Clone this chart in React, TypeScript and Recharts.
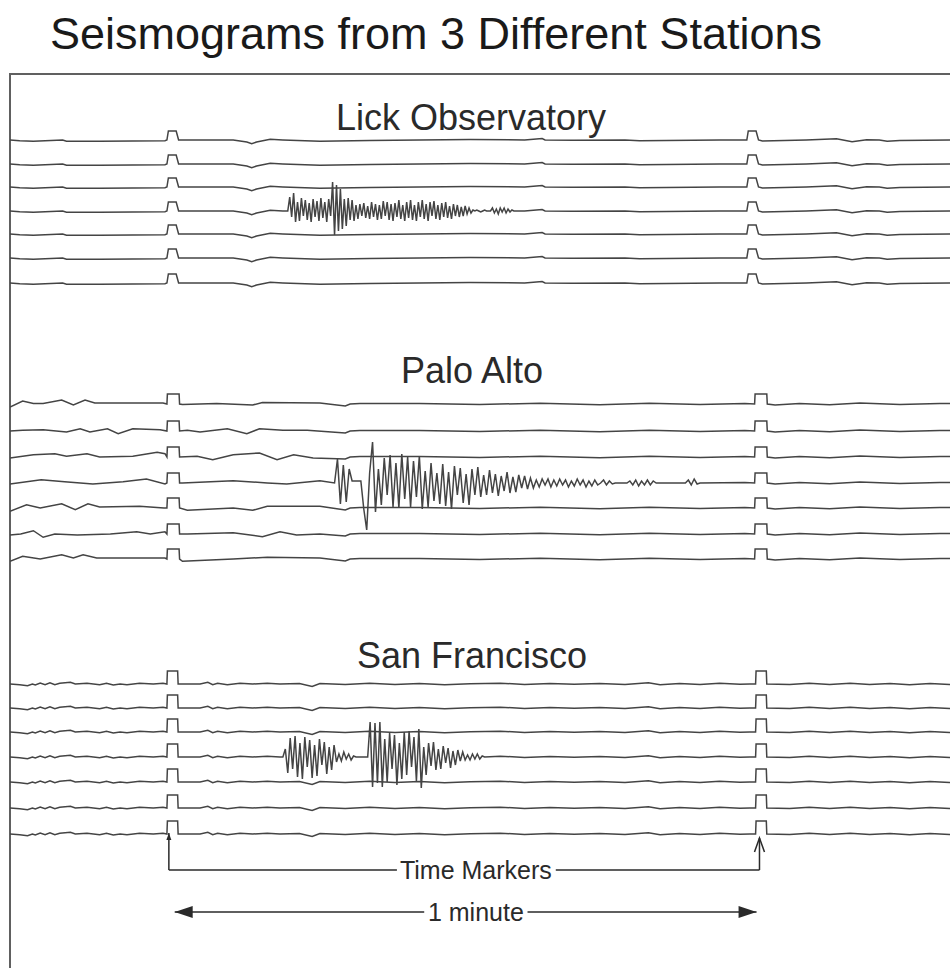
import React from 'react';
import { ComposedChart, XAxis, YAxis, Line, ReferenceLine, ReferenceDot } from 'recharts';

// x: seconds after the first time marker, y: trace level (1 unit ~ 1 px of drum paper)
const stationNames = ['Lick Observatory', 'Palo Alto', 'San Francisco'];
const stationLabelTimes = [31.2, 31.3, 31.3];
const stationLabelLevels = [873, 620, 335];

const lickLevels = [850, 826, 803, 779, 756, 732, 707];
const paloAltoLevels = [586, 559, 533, 507, 482, 456, 431];
const sanFranciscoLevels = [306, 282, 258, 233, 208, 182, 156];

const lickMarkers = [0, 59.5];
const paloAltoMarkers = [0, 60.3];
const sanFranciscoMarkers = [0, 60.4];

// time marker pulse [dt, amplitude]
const lickPulse = [[0, 0], [0.15, 9], [0.95, 9], [1.2, 0]];
const paloAltoPulse = [[0, 0], [0.05, 10], [1.25, 10], [1.3, 0]];
const sanFranciscoPulse = [[0, 0], [0.05, 13], [1.1, 13], [1.15, 0]];

// background wiggle [t, amplitude]
const lickWiggle = [
  [-16.1, 0], [-15.1, -0.7], [-13.7, -1.3], [-10.7, 0], [-10.3, -1.3], [-6.9, -1.3], [-3.5, -1], [-0.2, -0.7],
  [1.3, -1.3], [3.4, 0], [6.8, 0], [8.2, -2], [8.7, -3.7], [9.2, -2], [10.6, 0.7], [11.9, 0], [15.7, -1.3],
  [20.8, -0.5], [25.9, 0], [31.1, 0.5], [36.7, 0], [38.5, 1.5], [38.8, 0], [41.8, -0.3], [47.0, 0], [48.5, -0.7], [56.7, 0], [58.8, 0],
  [61.1, -1], [65.6, 0], [68.7, 1.3], [70.3, -1.7], [71.8, 0.3], [73.1, 0], [73.9, -1.3], [75.2, -0.5], [80.3, 0], [82.4, 0],
];

const paloAltoLeft = [
  [[-16.1, -3], [-14.8, 3], [-13.7, 0.5], [-12.7, 0.5], [-10.8, 4], [-9.6, -1], [-8.4, 4], [-7.4, 1], [-3.5, 1], [-0.4, 1], [1.6, -0.5], [5.1, 0.5], [8.8, -1], [9.8, 1.5], [15.7, 1]],
  [[-16.1, 0], [-14.8, 0.7], [-12.7, 1.3], [-10.3, -1], [-8.9, 2.3], [-7.9, -1], [-6.1, 2.3], [-5.0, -2.7], [-3.5, 2.3], [-0.7, 1.3], [2.1, 0.7], [3.4, -1], [6.2, 2.3], [8.2, -2.7], [9.5, 2.3], [11.9, 0.7], [14.4, 0.7]],
  [[-16.1, -1], [-13.7, 2.3], [-11.5, 3.3], [-10.3, 0.7], [-8.2, 3.3], [-6.9, 0], [-3.5, 0.7], [-1.0, 4.7], [-0.2, 3.3], [1.3, 2.3], [3.1, 0.7], [4.7, -2.7], [6.8, 2.3], [9.5, 4], [11.3, -2.7], [13.0, 2.3], [15.0, -1]],
  [[-16.1, -1], [-12.9, 3.3], [-10.5, 1.3], [-7.6, -1], [-4.5, 1.3], [-2.1, 4], [-0.2, -1], [1.6, 0], [6.8, 2.3], [10.3, 0], [12.3, -1], [15.7, 2.3]],
  [[-16.1, -3.3], [-14.4, 3.3], [-13.0, 0], [-10.8, 4.3], [-9.4, -1.7], [-8.1, 4.3], [-6.9, 1], [-2.8, 1.7], [-0.3, 0], [2.1, -2.3], [6.8, 0], [8.8, -2.3], [10.3, 1.7], [15.7, 1.7]],
  [[-16.1, -1], [-15.0, 0], [-13.7, 3.3], [-12.7, -3.3], [-11.5, 0], [-9.2, -1], [-5.8, 0], [-3.1, 2.3], [-1.7, 0], [-0.2, 2.3], [2.1, 0], [6.8, 1.3], [9.8, -2.7], [11.6, 2.3], [13.3, -1], [15.7, 0]],
  [[-16.1, -2.3], [-14.8, 2.7], [-13.0, 0], [-10.8, 4.3], [-9.6, 1], [-8.6, 4.3], [-7.2, 1], [-3.5, 1], [-0.2, 1], [1.6, -2.3], [6.8, 0], [10.3, 1.7], [15.7, 1]],
];
const paloAltoRight = [
  [18.3, -2], [18.8, 0], [19.8, 0.5], [25.9, 0.5], [32.1, -0.5], [38.3, 0.8], [44.4, -0.7], [49.5, 0.8], [54.7, -0.5], [59.3, 0.5],
  [62.4, -1], [64.9, 0.5], [68.0, -0.8], [71.1, 1], [75.2, -0.5], [79.3, 0.6], [82.4, 0],
];

const sanFranciscoWiggle = [
  [-16.1, 0], [-15.1, -0.7], [-14.3, -1.7], [-13.8, 0], [-13.5, -1], [-13.0, 1], [-12.5, -0.7], [-12.0, 1.3], [-11.5, -0.7], [-11.0, 0.7],
  [-9.9, 1.7], [-9.4, 0], [-8.2, 0.7], [-6.9, -0.7], [-6.2, 0.7], [-5.5, -1], [-4.8, 0], [-4.1, -0.7], [-2.8, 0.7], [-1.4, 0], [-0.4, 0.7],
  [1.5, 0], [3.4, 0], [4.2, 1.7], [4.7, -0.7], [5.2, 0.7], [6.2, -0.7], [7.5, 0.7], [8.8, 0], [10.3, 0.7], [11.6, 0],
  [13.6, 0.5], [14.9, -2.5], [15.7, 0.5], [18.3, -0.5], [20.8, 0.8], [23.4, -0.5], [25.9, 0.5], [28.5, -0.7], [31.1, 0.3], [34.2, 0.8],
  [36.7, -0.5], [39.3, 0.5], [41.8, -0.3], [44.4, 0.6], [47.0, -0.5], [49.4, 1.2], [50.6, -0.8], [52.6, 0.5], [54.7, -0.5], [56.7, 0.7],
  [58.8, -0.3], [59.8, 0], [61.6, 0.5], [63.9, -0.5], [65.9, 0.8], [68.0, -0.5], [70.1, 0.7], [72.1, -0.6], [74.2, 0.5], [76.2, -0.8],
  [78.3, 0.5], [80.3, -0.5], [82.4, 0],
];

// quake bursts on the 4th trace of each station: amplitudes sampled every `step` seconds from `start`
const lickBurst = {
  start: 12.4, step: 0.2,
  amps: [
    0, 14, -6, 18, -11, 9, -10, 13, -5, 11, -9, 8, -11, 12, -6, 10, -10, 13, -7, 9, -11, 12, -5,
    29, -24, 26, -20, 22, -18, 12, -15, 13, -9, 11, -10,
    6, -8, 7, -5, 8, -7, 5, -8, 9, -6, 7, -9, 6, -8, 10, -5, 9, -9, 7, -10, 8, -6, 11, -8, 6, -10,
    9, -7, 11, -9, 6, -10, 9, -6, 11, -8, 7, -10, 9, -5, 10, -8, 6, -9, 8, -6, 9, -7, 5, -8, 7,
    -5, 6, -6, 4, -5, 5, -3, 3, -2, 1,
    0, 1, 0, -1, 0, 1, 0, 0, 0,
    3, -2, 2, -3, 3, -1, 3, -2, 2, -1, 1, 0, 0, 0,
  ],
};
const paloAltoBurst = {
  start: 17.2, step: 0.3,
  amps: [
    0, 24, -21, 18, -19, 14, 2, 2, 2, 2, -26, -47, 10, 41, -29, 14, -22, 25, -12, 28, -24, 20, -25, 29, -16, 26,
    -24, 22, -14, 27, -26, 12, -24, 20, -18, 10, -21, 19, -23, 11, -26, 17, -12, 15, -20, 9, -22, 14, -12, 16,
    -14, 8, -12, 13, -10, 9, -13, 7, -8, 11, -10, 6, -9, 8, -5, 7, -6, 5, -5, 3, -4, 4, -2, 4, -4, 3, -3, 4,
    -2, 3, -4, 2, -3, 4, -2, 3, -4, 2, -3, 3, -2, 0, 3, -2, 2, -1, 0, 0, 0, 0, 0, 2, -2, 3, -3, 2, -2, 3, -2, 2,
    0, 0, 0, 0, 0, 0, 0, 0, 0, 0, 0, 3, -2, 4, -1, 0,
  ],
};
const sanFranciscoBursts = [
  {
    start: 11.9, step: 0.25,
    amps: [0, 8, -16, 19, -12, 21, -20, 14, -22, 20, -10, 17, -21, 12, -19, 18, -8, 15, -17, 10, -13, 12, -5, 3, -4, 5, -2, 3, -3, 1, 0],
  },
  {
    start: 20.6, step: 0.25,
    amps: [
      0, 35, -30, 34, -26, 35, -30, 18, -25, 24, -12, 22, -28, 14, -22, 25, -18, 26, -10, 20, -24, 28, -31, 10,
      -18, 14, -9, 15, -13, 8, -12, 11, -6, 9, -11, 6, -8, 7, -4, 5, -3, 2, -3, 3, -2, 3, -2, 1, 0,
    ],
  },
];

// annotation under the last trace
const bracketTimes = [0.2, 60.8];
const bracketTops = [157, 152];
const bracketLevel = 120;
const bracketTextGap = [23.6, 39.9];
const minuteTimes = [0.8, 60.5];
const minuteLevel = 78;
const minuteTextGap = [26.4, 37.0];
const noteTime = 31.7;

type Burst = { start: number; step: number; amps: number[] };

function buildTrace(level: number, wiggle: number[][], markers: number[], pulse: number[][], bursts: Burst[]) {
  const pulseEnd = pulse[pulse.length - 1][0];
  const blocked = markers.map((m) => [m - 0.1, m + pulseEnd + 0.1]);
  bursts.forEach((b) => blocked.push([b.start - 0.05, b.start + b.step * (b.amps.length - 1) + 0.05]));
  const pts: { t: number; v: number }[] = [];
  wiggle.forEach(([t, a]) => {
    if (!blocked.some(([lo, hi]) => t >= lo && t <= hi)) pts.push({ t, v: level + a });
  });
  markers.forEach((m) => pulse.forEach(([dt, a]) => pts.push({ t: m + dt, v: level + a })));
  bursts.forEach((b) => b.amps.forEach((a, i) => pts.push({ t: b.start + i * b.step, v: level + a })));
  pts.sort((p, q) => p.t - q.t);
  return pts;
}

const traces = [
  ...lickLevels.map((lv, i) => buildTrace(lv, lickWiggle, lickMarkers, lickPulse, i === 3 ? [lickBurst] : [])),
  ...paloAltoLevels.map((lv, i) =>
    buildTrace(lv, [...paloAltoLeft[i], ...paloAltoRight], paloAltoMarkers, paloAltoPulse, i === 3 ? [paloAltoBurst] : [])
  ),
  ...sanFranciscoLevels.map((lv, i) =>
    buildTrace(lv, sanFranciscoWiggle, sanFranciscoMarkers, sanFranciscoPulse, i === 3 ? sanFranciscoBursts : [])
  ),
];

const FONT = '"Liberation Sans", Arial, Helvetica, sans-serif';
const INK = '#2a2a2a';

const textShape = (label: string, size: number) => (p: any) => (
  <text x={p.cx} y={p.cy} textAnchor="middle" dominantBaseline="central" fontFamily={FONT} fontSize={size} fill={INK}>
    {label}
  </text>
);
const leftHead = (p: any) => (
  <polygon points={`${p.cx},${p.cy} ${p.cx + 18},${p.cy - 6} ${p.cx + 18},${p.cy + 6}`} fill={INK} />
);
const rightHead = (p: any) => (
  <polygon points={`${p.cx},${p.cy} ${p.cx - 18},${p.cy - 6} ${p.cx - 18},${p.cy + 6}`} fill={INK} />
);
const smallUpHead = (p: any) => (
  <polygon points={`${p.cx},${p.cy} ${p.cx - 2.5},${p.cy + 7} ${p.cx + 2.5},${p.cy + 7}`} fill={INK} />
);
const openUpHead = (p: any) => (
  <polyline points={`${p.cx - 5},${p.cy + 14} ${p.cx},${p.cy} ${p.cx + 5},${p.cy + 14}`} fill="none" stroke={INK} strokeWidth={1.5} />
);

export default function App() {
  return (
    <div style={{ position: 'absolute', left: 0, top: 0, width: 950, height: 968, overflow: 'hidden', background: '#fff' }}>
      <div
        style={{
          position: 'absolute', left: 50, top: 11, fontFamily: FONT, fontSize: 45, lineHeight: '45px',
          color: '#1a1a1a', whiteSpace: 'nowrap',
        }}
      >
        Seismograms from 3 Different Stations
      </div>
      <div
        style={{
          position: 'absolute', left: 9, top: 73, width: 1000, height: 1000,
          borderLeft: '2px solid #606060', borderTop: '2px solid #606060',
        }}
      />
      <div style={{ position: 'absolute', left: 0, top: 0 }}>
        <ComposedChart width={970} height={990} margin={{ top: 74, right: 0, bottom: 0, left: 10 }}>
          <XAxis type="number" dataKey="t" domain={[-16.1, 82.4]} allowDataOverflow hide />
          <YAxis type="number" dataKey="v" domain={[0, 916]} allowDataOverflow hide />
          {traces.map((d, i) => (
            <Line
              key={`trace-${i}`}
              data={d}
              dataKey="v"
              type="linear"
              stroke="#444"
              strokeWidth={1.5}
              dot={false}
              activeDot={false}
              isAnimationActive={false}
            />
          ))}
          {stationNames.map((name, i) => (
            <ReferenceDot
              key={name}
              x={stationLabelTimes[i]}
              y={stationLabelLevels[i]}
              r={1}
              shape={textShape(name, 36)}
            />
          ))}
          {bracketTimes.map((t, i) => (
            <ReferenceLine
              key={`bv-${i}`}
              segment={[{ x: t, y: bracketTops[i] }, { x: t, y: bracketLevel }]}
              stroke={INK}
              strokeWidth={1.5}
            />
          ))}
          <ReferenceLine segment={[{ x: bracketTimes[0], y: bracketLevel }, { x: bracketTextGap[0], y: bracketLevel }]} stroke={INK} strokeWidth={1.5} />
          <ReferenceLine segment={[{ x: bracketTextGap[1], y: bracketLevel }, { x: bracketTimes[1], y: bracketLevel }]} stroke={INK} strokeWidth={1.5} />
          <ReferenceDot x={bracketTimes[0]} y={bracketTops[0]} r={1} shape={smallUpHead} />
          <ReferenceDot x={bracketTimes[1]} y={bracketTops[1]} r={1} shape={openUpHead} />
          <ReferenceDot x={noteTime} y={bracketLevel} r={1} shape={textShape('Time Markers', 25)} />

          <ReferenceLine segment={[{ x: minuteTimes[0], y: minuteLevel }, { x: minuteTextGap[0], y: minuteLevel }]} stroke={INK} strokeWidth={1.5} />
          <ReferenceLine segment={[{ x: minuteTextGap[1], y: minuteLevel }, { x: minuteTimes[1], y: minuteLevel }]} stroke={INK} strokeWidth={1.5} />
          <ReferenceDot x={minuteTimes[0]} y={minuteLevel} r={1} shape={leftHead} />
          <ReferenceDot x={minuteTimes[1]} y={minuteLevel} r={1} shape={rightHead} />
          <ReferenceDot x={noteTime} y={minuteLevel} r={1} shape={textShape('1 minute', 25)} />
        </ComposedChart>
      </div>
    </div>
  );
}
